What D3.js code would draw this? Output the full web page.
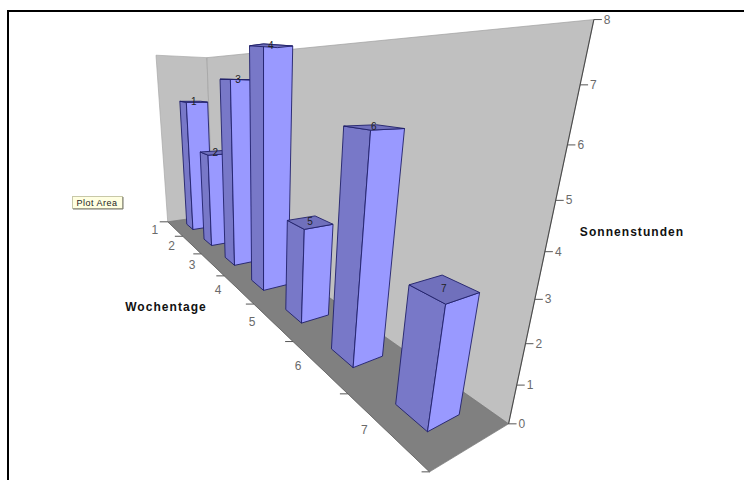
<!DOCTYPE html>
<html>
<head>
<meta charset="utf-8">
<script src="https://cdn.jsdelivr.net/npm/d3@7"></script>
<style>
html,body{margin:0;padding:0;background:#fff}
svg{display:block}
text{font-family:"Liberation Sans",Arial,sans-serif}
</style>
</head>
<body>
<svg id="chart" width="744" height="480"></svg>
<script>
// Weekdays and hours of sunshine
const days = [1, 2, 3, 4, 5, 6, 7];
const sunHours = [6, 4, 7, 8, 3, 6, 3];
const valueTicks = [0, 1, 2, 3, 4, 5, 6, 7, 8];
const dayTicks = [0, 1, 2, 3, 4, 5, 6, 7];
const dayTitle = "Wochentage";
const valueTitle = "Sonnenstunden";
const tipText = "Plot Area";

// Camera calibration: where known points of the chart box land on the page.
// Each entry is [day position, depth, hours, page x, page y].
const cameraAnchors = [
  [0,0,0,170,222],[1,0,0,182,236],[2,0,0,200,254],[3,0,0,223,276],
  [4,0,0,252,304],[5,0,0,293,342],[6,0,0,348,395],[7,0,0,432,470],
  [7,1,0,510,422],[7,1,1,517,384],[7,1,2,526,344],[7,1,3,534,300],
  [7,1,4,545,252],[7,1,5,555,200],[7,1,6,568,146],[7,1,7,580,86],[7,1,8,594,20],
  [0,1,0,213,216],[0,0,8,157,55],[0,1,8,206,57]
];

const dayScale = d3.scaleLinear().domain([0, 7]).range([0, 1]);
const valueScale = d3.scaleLinear().domain([0, 8]).range([0, 1]);

// Least-squares fit of a projective camera (11 unknowns) to the anchors.
function fitCamera(anchors) {
  const n = 11;
  const A = d3.range(n).map(() => new Array(n + 1).fill(0));
  const addRow = (row, rhs) => {
    for (let i = 0; i < n; i++) {
      for (let j = 0; j < n; j++) A[i][j] += row[i] * row[j];
      A[i][n] += row[i] * rhs;
    }
  };
  anchors.forEach(([t, d, h, u, v]) => {
    const x = dayScale(t), y = d, z = valueScale(h);
    addRow([x, y, z, 1, 0, 0, 0, 0, -u * x, -u * y, -u * z], u);
    addRow([0, 0, 0, 0, x, y, z, 1, -v * x, -v * y, -v * z], v);
  });
  for (let c = 0; c < n; c++) {
    let p = c;
    for (let r = c + 1; r < n; r++) if (Math.abs(A[r][c]) > Math.abs(A[p][c])) p = r;
    [A[c], A[p]] = [A[p], A[c]];
    for (let r = 0; r < n; r++) {
      if (r === c) continue;
      const f = A[r][c] / A[c][c];
      for (let k = c; k <= n; k++) A[r][k] -= f * A[c][k];
    }
  }
  return A.map((row, i) => row[n] / row[i]);
}
const m = fitCamera(cameraAnchors);

// Project (day position, depth, hours) to page coordinates.
function project(t, d, h) {
  const x = dayScale(t), y = d, z = valueScale(h);
  const w = m[8] * x + m[9] * y + m[10] * z + 1;
  return [(m[0] * x + m[1] * y + m[2] * z + m[3]) / w,
          (m[4] * x + m[5] * y + m[6] * z + m[7]) / w];
}

const svg = d3.select("#chart");
const poly = d3.line().curve(d3.curveLinearClosed);
const face = (pts, fill, stroke, sw) => svg.append("path")
  .attr("d", poly(pts.map(p => project(...p))))
  .attr("fill", fill).attr("stroke", stroke || "none").attr("stroke-width", sw || 0)
  .attr("stroke-linejoin", "round");

// Page frame: only the top and left rules are present
svg.append("path").attr("d", "M8 480V11H744").attr("fill", "none")
  .attr("stroke", "#000").attr("stroke-width", 2);

// Box walls and floor
face([[0,0,0],[0,1,0],[0,1,8],[0,0,8]], "#c0c0c0", "#a8a8a8", 0.7);
face([[0,1,0],[7,1,0],[7,1,8],[0,1,8]], "#c0c0c0", "#a0a0a0", 0.7);
face([[0,0,0],[7,0,0],[7,1,0],[0,1,0]], "#808080", "#767676", 0.7);

// Value axis along the right wall edge
const line2 = (a, b, color, sw) => svg.append("line")
  .attr("x1", a[0]).attr("y1", a[1]).attr("x2", b[0]).attr("y2", b[1])
  .attr("stroke", color).attr("stroke-width", sw);
line2(project(7,1,0), project(7,1,8), "#4a4a4a", 1.1);
line2(project(0,0,0), project(7,0,0), "#666", 0.8);

valueTicks.forEach(h => {
  const p = project(7, 1, h);
  line2(p, [p[0] + 8, p[1]], "#555", 1);
  svg.append("text").attr("x", p[0] + 10).attr("y", p[1] + 4)
    .attr("font-size", 12).attr("fill", "#6a6a6a").text(h);
});

// Day axis along the front floor edge, labelled between its ticks
dayTicks.forEach(t => {
  const p = project(t, 0, 0);
  line2(p, [p[0] - 8, p[1]], "#555", 1);
});
days.forEach(day => {
  const p = project(day - 0.5, 0, 0);
  svg.append("text").attr("x", p[0] - 20).attr("y", p[1] + 5)
    .attr("text-anchor", "middle").attr("font-size", 12).attr("fill", "#6a6a6a").text(day);
});

// One block per day, drawn from the back to the front of the box
const barLow = 0.33, barHigh = 0.71, depthLow = 0.3, depthHigh = 0.71;
const edge = "#20206a";
days.forEach((day, i) => {
  const t0 = day - 1 + barLow, t1 = day - 1 + barHigh, h = sunHours[i];
  face([[t0,depthLow,0],[t1,depthLow,0],[t1,depthLow,h],[t0,depthLow,h]], "#7878c8", edge, 0.9);
  face([[t1,depthLow,0],[t1,depthHigh,0],[t1,depthHigh,h],[t1,depthLow,h]], "#9999ff", edge, 0.9);
  face([[t0,depthLow,h],[t1,depthLow,h],[t1,depthHigh,h],[t0,depthHigh,h]], "#7070bc", edge, 0.9);
  const c = project((t0 + t1) / 2, (depthLow + depthHigh) / 2, h);
  svg.append("text").attr("x", c[0]).attr("y", c[1] + 3)
    .attr("text-anchor", "middle").attr("font-size", 10).attr("fill", "#222").text(day);
});

// Axis titles
const title = (x, y, s) => svg.append("text").attr("x", x).attr("y", y)
  .attr("text-anchor", "middle").attr("font-size", 12).attr("font-weight", "bold")
  .attr("letter-spacing", 1.05).attr("font-family", "DejaVu Sans").attr("fill", "#111").text(s);
title(166, 311, dayTitle);
title(632, 236, valueTitle);

// Hover tip over the plot area
svg.append("rect").attr("x", 72.5).attr("y", 196.5).attr("width", 50).attr("height", 12)
  .attr("fill", "#ffffe1").attr("stroke", "#c8c8a8").attr("stroke-width", 1);
svg.append("path").attr("d", "M73 209H123V197").attr("fill", "none")
  .attr("stroke", "#77776a").attr("stroke-width", 1);
svg.append("text").attr("x", 97).attr("y", 205.5).attr("text-anchor", "middle")
  .attr("font-size", 9).attr("letter-spacing", 0.5).attr("fill", "#222").text(tipText);
</script>
</body>
</html>
